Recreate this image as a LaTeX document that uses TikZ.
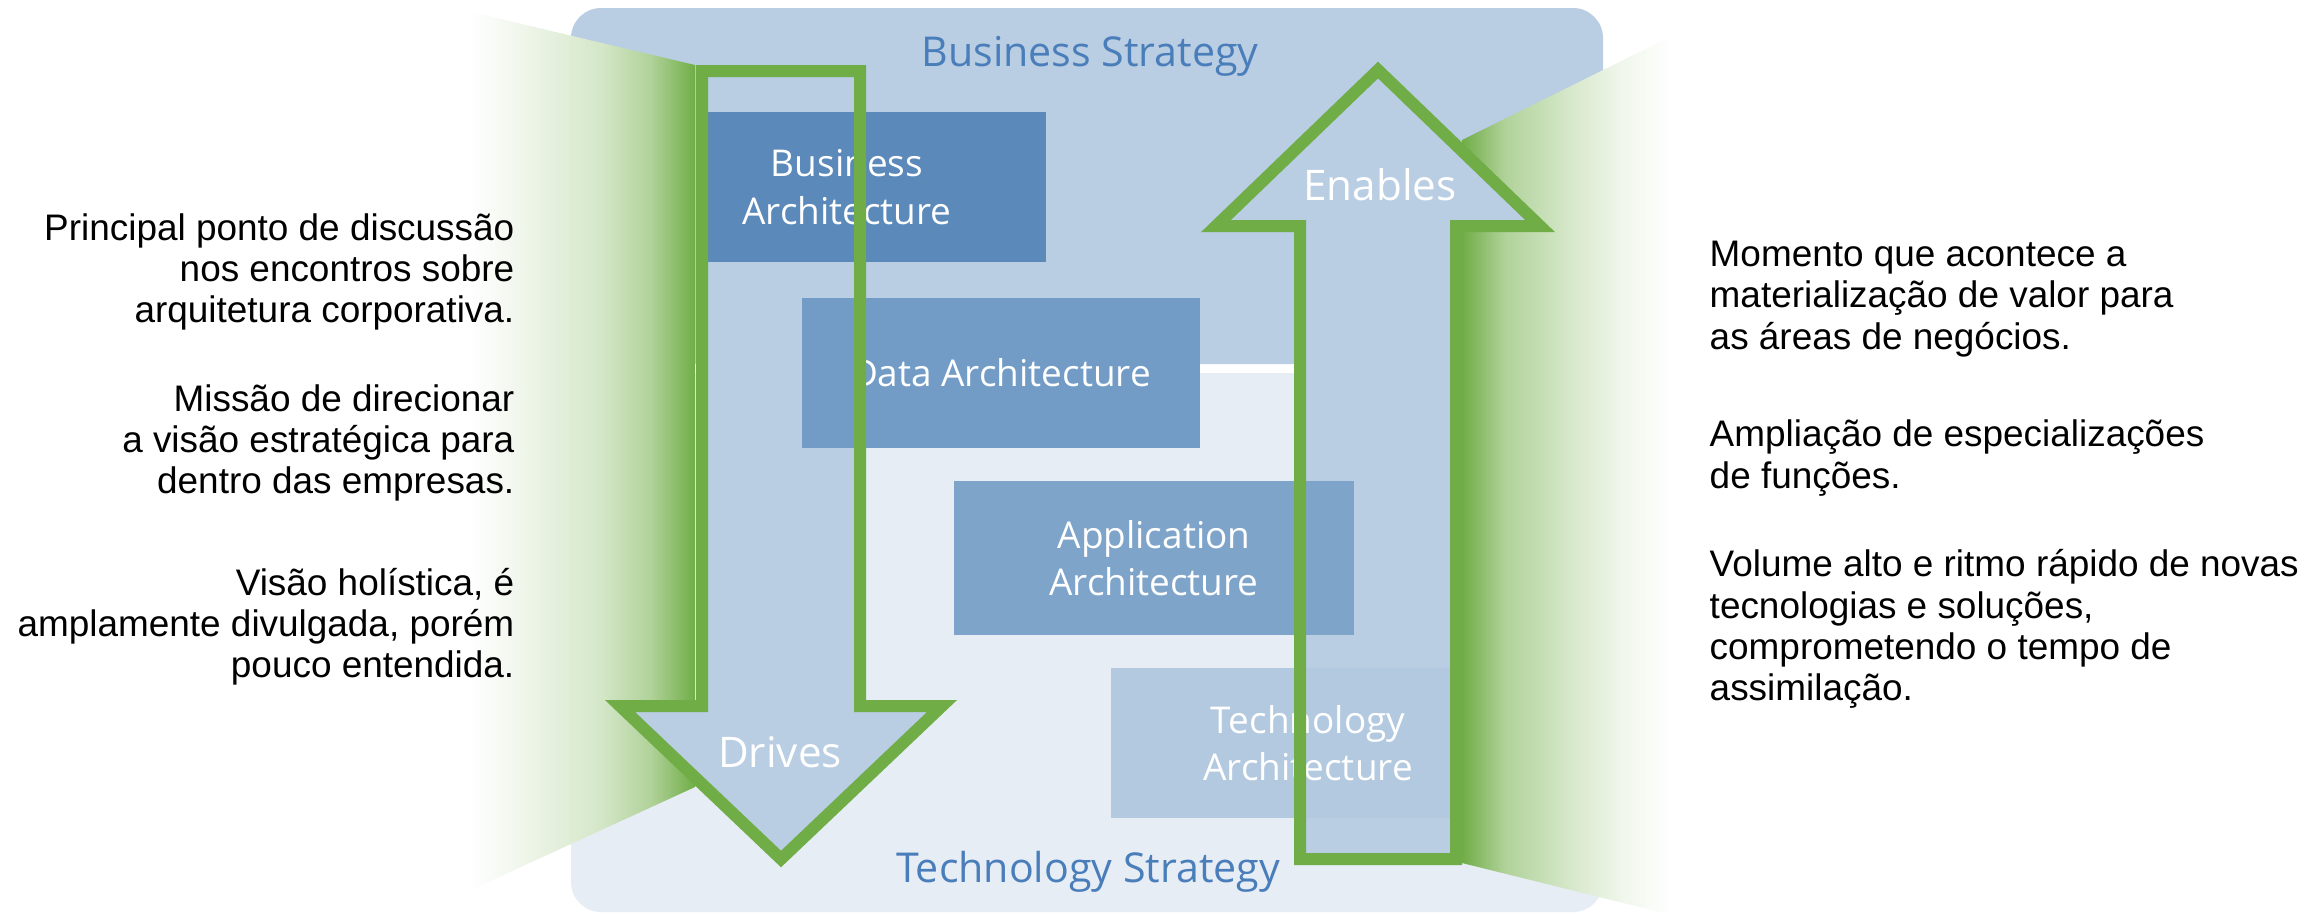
\documentclass[tikz,border=0pt]{standalone}
\usepackage{fontspec}
\setmainfont{Liberation Sans}
\newfontfamily\segoe{Open Sans}

\definecolor{bizpanel}{HTML}{B9CDE3}
\definecolor{techpanel}{HTML}{E7EDF5}
\definecolor{bizbox}{HTML}{5A89BA}
\definecolor{databox}{HTML}{729CC6}
\definecolor{appbox}{HTML}{7EA4CA}
\definecolor{techbox}{HTML}{B3C9DF}
\definecolor{stratblue}{HTML}{4A7EBB}
\definecolor{arrowgreen}{HTML}{70AD47}

\pgfdeclarehorizontalshading{fadeleft}{100bp}{color(0bp)=(white); color(29bp)=(white);
  color(39bp)=(arrowgreen!10!white); color(56bp)=(arrowgreen!30!white);
  color(66bp)=(arrowgreen!55!white); color(75bp)=(arrowgreen); color(100bp)=(arrowgreen)}
\pgfdeclarehorizontalshading{faderight}{100bp}{color(0bp)=(arrowgreen); color(25bp)=(arrowgreen);
  color(34bp)=(arrowgreen!55!white); color(48bp)=(arrowgreen!28!white);
  color(59bp)=(arrowgreen!10!white); color(69bp)=(white); color(100bp)=(white)}

\tikzstyle{archbox} = [rectangle, inner sep=0pt, text=white, align=center,
font=\segoe\fontsize{10.5}{13.5}\selectfont]
\tikzstyle{strategy} = [inner sep=0pt, text=stratblue, font=\segoe\fontsize{11.7}{14}\selectfont]
\tikzstyle{arrowlabel} = [inner sep=0pt, text=white, font=\segoe\fontsize{12}{14}\selectfont]
\tikzstyle{note} = [inner sep=0pt, font=\fontsize{10.5}{11.7}\selectfont]
\tikzstyle{bigarrow} = [draw=arrowgreen, line width=0.12cm, miter limit=10]

\newcommand{\drivespath}{(702,71) -- (860,71) -- (860,706) -- (942,706) -- (781,859) -- (620,706) -- (702,706) -- cycle}
\newcommand{\enablespath}{(1300,859) -- (1456,859) -- (1456,226) -- (1540,226) -- (1378,70) -- (1216,226) -- (1300,226) -- cycle}

\begin{document}
\begin{tikzpicture}[x=0.01cm, y=-0.01cm]
	\path[use as bounding box, fill=white] (0,0) rectangle (2310,914);

	%Panels
	\fill[techpanel, rounded corners=0.3cm] (571,373) rectangle (1603,912);
	\fill[bizpanel, rounded corners=0.3cm] (571,8) rectangle (1603,364);

	%Side fades
	\shade[shading=fadeleft] (695,65) -- (471,12) -- (449,900) -- (695,787) -- cycle;
	\shade[shading=faderight] (1462,140) -- (1700,22) -- (1700,922) -- (1462,863) -- cycle;

	%Arrow bodies
	\fill[bizpanel] \drivespath;
	\fill[bizpanel] \enablespath;

	%Nodes
	\node [strategy] (bizstrat) at (1090,56) {Business Strategy};
	\node [strategy] (techstrat) at (1088,872) {Technology Strategy};

	\node [archbox, fill=bizbox, minimum width=3.39cm, minimum height=1.49cm,
		label={[archbox, xshift=-0.29cm]center:Business\\Architecture}] (bizarch) at (876,187) {};
	\node [archbox, fill=databox, minimum width=3.97cm, minimum height=1.5cm] (dataarch) at (1001,373) {Data Architecture};
	\node [archbox, fill=appbox, minimum width=4cm, minimum height=1.53cm] (apparch) at (1154,558) {Application\\Architecture};
	\node [archbox, fill=techbox, minimum width=3.45cm, minimum height=1.5cm,
		label={[archbox, xshift=0.245cm]center:Technology\\Architecture}] (techarch) at (1283.5,743) {};

	%Arrow outlines
	\draw[bigarrow] \drivespath;
	\draw[bigarrow] \enablespath;

	\node [arrowlabel] (drives) at (780,752) {Drives};
	\node [arrowlabel] (enables) at (1380,185) {Enables};

	%Notes
	\node [note, anchor=east, align=right] (leftA) at (515,272)
		{Principal ponto de discussão\\nos encontros sobre\\arquitetura corporativa.};
	\node [note, anchor=east, align=right] (leftB) at (515,443)
		{Missão de direcionar\\a visão estratégica para\\dentro das empresas.};
	\node [note, anchor=east, align=right] (leftC) at (515,627)
		{Visão holística, é\\amplamente divulgada, porém\\pouco entendida.};

	\node [note, anchor=west, align=left] (rightA) at (1709,299)
		{Momento que acontece a\\materialização de valor para\\as áreas de negócios.};
	\node [note, anchor=west, align=left] (rightB) at (1709,458)
		{Ampliação de especializações\\de funções.};
	\node [note, anchor=west, align=left] (rightC) at (1709,629)
		{Volume alto e ritmo rápido de novas\\tecnologias e soluções,\\comprometendo o tempo de\\assimilação.};
\end{tikzpicture}
\end{document}
